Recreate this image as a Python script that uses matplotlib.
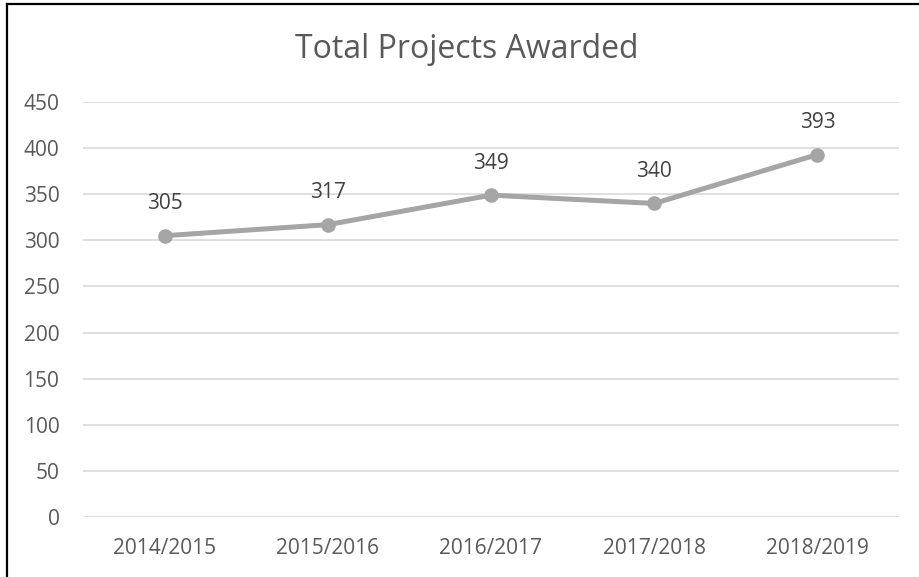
import matplotlib.pyplot as plt
from matplotlib.lines import Line2D

# chart data
years = ['2014/2015', '2015/2016', '2016/2017', '2017/2018', '2018/2019']
projects = [305, 317, 349, 340, 393]
y_ticks = [0, 50, 100, 150, 200, 250, 300, 350, 400, 450]

plt.rcParams['font.family'] = ['Open Sans', 'DejaVu Sans']

fig = plt.figure(figsize=(9.2, 5.77), dpi=100)
ax = fig.add_axes([83/920, 1 - 517/577, 816/920, 415/577])

x = range(len(years))
ax.plot(x, projects, color='#A5A5A5', lw=3.6, marker='o', ms=9.5, zorder=3)
for i, v in enumerate(projects):
	ax.annotate(str(v), (i, v), xytext=(0, 23), textcoords='offset points',
		ha='center', va='center', fontsize=15, color='#404040')

ax.set_xlim(-0.5, len(years) - 0.5)
ax.set_ylim(0, 450)
ax.set_yticks(y_ticks)
ax.set_xticks(list(x))
ax.set_xticklabels(years)
ax.grid(axis='y', color='#D9D9D9', lw=1.2)
ax.set_axisbelow(True)
for s in ax.spines.values():
	s.set_visible(False)
ax.tick_params(length=0, labelsize=15, colors='#595959')
ax.tick_params(axis='x', pad=15)
ax.tick_params(axis='y', pad=17)
for lbl in ax.get_yticklabels():
	lbl.set_horizontalalignment('right')

fig.text(467/920, 1 - 50/577, 'Total Projects Awarded', ha='center', va='center',
	fontsize=23, color='#595959')

# outer frame (left and top edges visible)
fig.add_artist(Line2D([7/920, 7/920], [0, 1 - 4/577], color='black', lw=1.6, transform=fig.transFigure))
fig.add_artist(Line2D([7/920, 1], [1 - 4/577, 1 - 4/577], color='black', lw=1.6, transform=fig.transFigure))

fig.savefig('out.png', dpi=100)
